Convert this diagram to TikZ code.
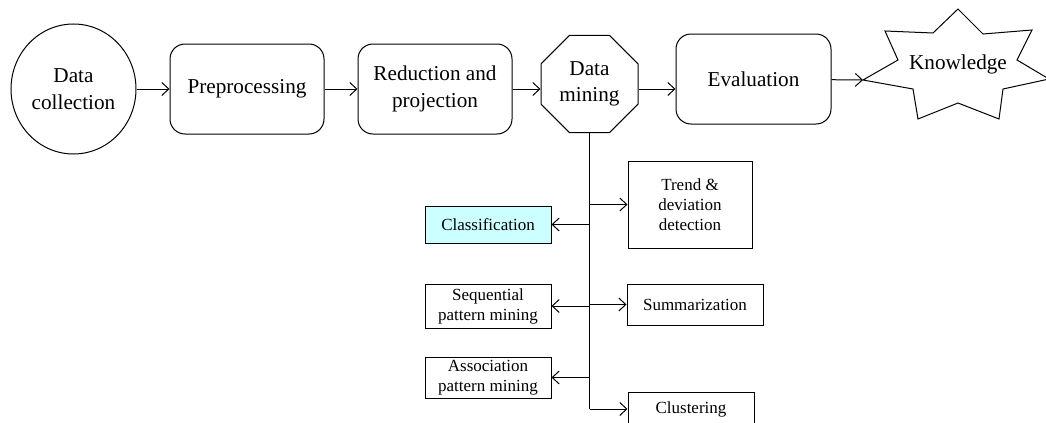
\documentclass[tikz,border=0pt]{standalone}
\usepackage{fontspec}
\setmainfont{Liberation Serif}
\usetikzlibrary{shapes.geometric,arrows.meta}

\definecolor{clsfill}{RGB}{204,255,255}

\tikzset{
    >={Straight Barb[length=3.5pt,width=6.5pt]},
    topfont/.style={font=\fontsize{10.6}{13.3}\selectfont},
    stage/.style={draw, rounded corners=7.5pt, minimum width=77pt, minimum height=45pt, inner sep=0pt, align=center, topfont},
    task/.style={draw, minimum width=63pt, inner sep=0pt, align=center, font=\fontsize{8.5}{10}\selectfont},
}

\begin{document}
\begin{tikzpicture}[x=0.5pt, y=-0.5pt, line width=0.5pt]
    \useasboundingbox (0,0) rectangle (1046,423);

    % Process chain
    \node[draw, ellipse, minimum width=62.5pt, minimum height=65pt, inner sep=0pt, align=center, topfont] (dc) at (73.5,89) {Data\\collection};
    \node[stage] (pre) at (247,89) {Preprocessing};
    \node[stage] (red) at (435,89) {Reduction and\\projection};
    \node[draw, regular polygon, regular polygon sides=8, minimum size=52.5pt, inner sep=0pt, align=center, topfont] (dm) at (589.5,84) {Data\\mining};
    \node[stage, minimum width=77.5pt] (eva) at (753.5,79) {Evaluation};

    % Knowledge star
    \draw (885,31) -- (933,33) -- (958,9) -- (983,34) -- (1032,30) -- (1017,60) -- (1049,79) -- (1003,89) -- (999,119) -- (958,103) -- (918,119) -- (913,89) -- (863,80) -- (898,60) -- cycle;
    \coordinate (kn-tip) at (863,80);
    \node[topfont] (kn) at (958,64) {Knowledge};

    \draw[->] (dc) -- (pre);
    \draw[->] (pre) -- (red);
    \draw[->] (red.east) -- (red.east -| dm.west);
    \draw[->] (dm.east |- red.east) -- (red.east -| eva.west);
    \draw[->] (eva) -- (kn-tip);

    % Mining tasks
    \node[task, minimum width=62pt, minimum height=43.5pt] (tre) at (690,204.5) {Trend \&\\deviation\\detection};
    \node[task, fill=clsfill, minimum height=18.5pt] (cls) at (488,224.5) {Classification};
    \node[task, minimum width=68pt, minimum height=20.5pt] (sum) at (695,304.5) {Summarization};
    \node[task, minimum height=22pt] (seq) at (488,306) {Sequential\\pattern mining};
    \node[task, minimum height=20.5pt] (ass) at (488,377.5) {Association\\pattern mining};
    \node[task, minimum height=17pt] (clu) at (691,409) {Clustering};

    \draw (dm.south) -- (dm.south |- clu.west);
    \draw[->] (dm.south |- tre.west) -- (tre.west);
    \draw[->] (dm.south |- cls.east) -- (cls.east);
    \draw[->] (dm.south |- seq.east) -- (seq.east);
    \draw[->] (dm.south |- sum.west) -- (sum.west);
    \draw[->] (dm.south |- ass.east) -- (ass.east);
    \draw[->] (dm.south |- clu.west) -- (clu.west);
\end{tikzpicture}
\end{document}
